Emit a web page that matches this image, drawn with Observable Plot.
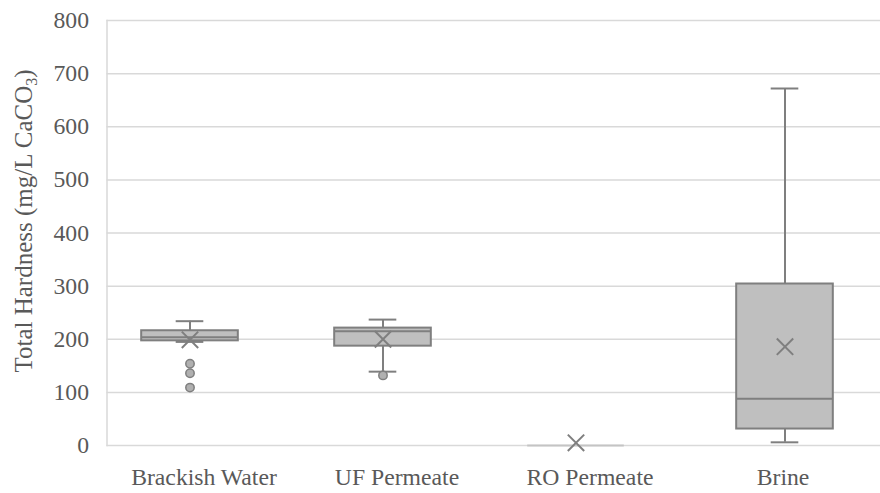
<!DOCTYPE html>
<html><head><meta charset="utf-8">
<script src="https://cdn.jsdelivr.net/npm/d3@7"></script>
<script src="https://cdn.jsdelivr.net/npm/@observablehq/plot@0.6"></script>
<style>
body{margin:0;background:#fff}
#chart{width:880px;height:493px}
#chart svg, #chart svg text{font-family:'Liberation Serif','Times New Roman',serif !important}
</style>
</head><body><div id="chart"></div>
<script>
// ---- data ----
const categories = ["Brackish Water", "UF Permeate", "RO Permeate", "Brine"];
const seriesSlot = ["A", "A", "A", "B"];      // Excel series slot (box offset within band)
const whiskerLow  = [195, 139, 0, 6];
const q1          = [197, 187, 0, 31];
const median      = [204, 215, 0, 88];
const q3          = [216, 221, 0, 304];
const whiskerHigh = [234, 237, 0, 672];
const mean        = [199, 200, 5, 186];
const outlierCategory = ["Brackish Water", "Brackish Water", "Brackish Water", "UF Permeate"];
const outlierValue    = [154, 136, 109, 132];
const yTicks = [0, 100, 200, 300, 400, 500, 600, 700, 800];

// ---- build tables ----
const boxes = categories.map((c, i) => ({
  cat: c, slot: seriesSlot[i], lo: whiskerLow[i], q1: q1[i], med: median[i],
  q3: q3[i], hi: whiskerHigh[i], mean: mean[i]
}));
const outliers = outlierCategory.map((c, i) => ({
  cat: c, slot: seriesSlot[categories.indexOf(c)], v: outlierValue[i]
}));

const W = 880, H = 493, ML = 106.5, MR = 0, MT = 20, MB = 48;
const band = (W - ML - MR) / categories.length;
const boxInset = (band - 97) / 2;
const capInset = (band - 28) / 2;
const dark = "#7f7f7f", fillC = "#bfbfbf", grid = "#d9d9d9";
const slotDx = {A: -14, B: 2};
const serif = "'Liberation Serif', 'Times New Roman', serif";

function boxMarks(slot) {
  const b = boxes.filter(d => d.slot === slot);
  const o = outliers.filter(d => d.slot === slot);
  const dx = slotDx[slot];
  const solid = b.filter(d => d.q3 > d.q1);
  const flat = b.filter(d => !(d.q3 > d.q1));
  const withWhisk = b.filter(d => d.hi > d.lo);
  return [
    Plot.ruleX(withWhisk, {x: "cat", y1: "q3", y2: "hi", stroke: dark, strokeWidth: 2, dx}),
    Plot.ruleX(withWhisk, {x: "cat", y1: "lo", y2: "q1", stroke: dark, strokeWidth: 2, dx}),
    Plot.tickY(withWhisk, {x: "cat", y: "hi", stroke: dark, strokeWidth: 2, insetLeft: capInset, insetRight: capInset, dx}),
    Plot.tickY(withWhisk, {x: "cat", y: "lo", stroke: dark, strokeWidth: 2, insetLeft: capInset, insetRight: capInset, dx}),
    Plot.barY(solid, {x: "cat", y1: "q1", y2: "q3", fill: fillC, stroke: dark, strokeWidth: 2, insetLeft: boxInset, insetRight: boxInset, dx}),
    Plot.tickY(solid, {x: "cat", y: "med", stroke: dark, strokeWidth: 2, insetLeft: boxInset, insetRight: boxInset, dx}),
    Plot.tickY(flat, {x: "cat", y: "med", stroke: "#c4c4c4", strokeWidth: 2, insetLeft: boxInset, insetRight: boxInset, dx}),
    Plot.dot(b, {x: "cat", y: "mean", symbol: "times", r: 7.5, stroke: dark, strokeWidth: 2, dx}),
    Plot.dot(o, {x: "cat", y: "v", r: 4.2, fill: "#b0b0b0", stroke: dark, strokeWidth: 1.5, dx})
  ];
}

const chart = Plot.plot({
  width: W, height: H,
  marginLeft: ML, marginRight: MR, marginTop: MT, marginBottom: MB,
  style: {fontFamily: serif, fontSize: "23.7px", color: "#595959", background: "#fff"},
  x: {domain: categories, paddingInner: 0, paddingOuter: 0},
  y: {domain: [0, 800]},
  marks: [
    Plot.ruleY(yTicks, {stroke: grid, strokeWidth: 1.5}),
    Plot.frame({anchor: "left", stroke: grid, strokeWidth: 1.5}),
    Plot.axisY({ticks: yTicks, tickSize: 0, tickPadding: 18, label: null, fill: "#595959", fontFamily: serif, fontSize: 23.7}),
    Plot.axisX({tickSize: 0, tickPadding: 23, label: null, fill: "#595959", fontFamily: serif, fontSize: 23.7}),
    ...boxMarks("A"),
    ...boxMarks("B")
  ]
});

// y-axis title with subscript
const svg = d3.select(chart);
const t = svg.append("text")
  .attr("transform", "translate(32,221) rotate(-90)")
  .attr("text-anchor", "middle")
  .attr("fill", "#595959")
  .style("font-family", serif)
  .style("font-size", "25px");
t.append("tspan").text("Total Hardness (mg/L CaCO");
t.append("tspan").attr("font-size", "16px").attr("dy", 5).text("3");
t.append("tspan").attr("dy", -5).text(")");

document.getElementById("chart").appendChild(chart);
</script>
</body></html>
